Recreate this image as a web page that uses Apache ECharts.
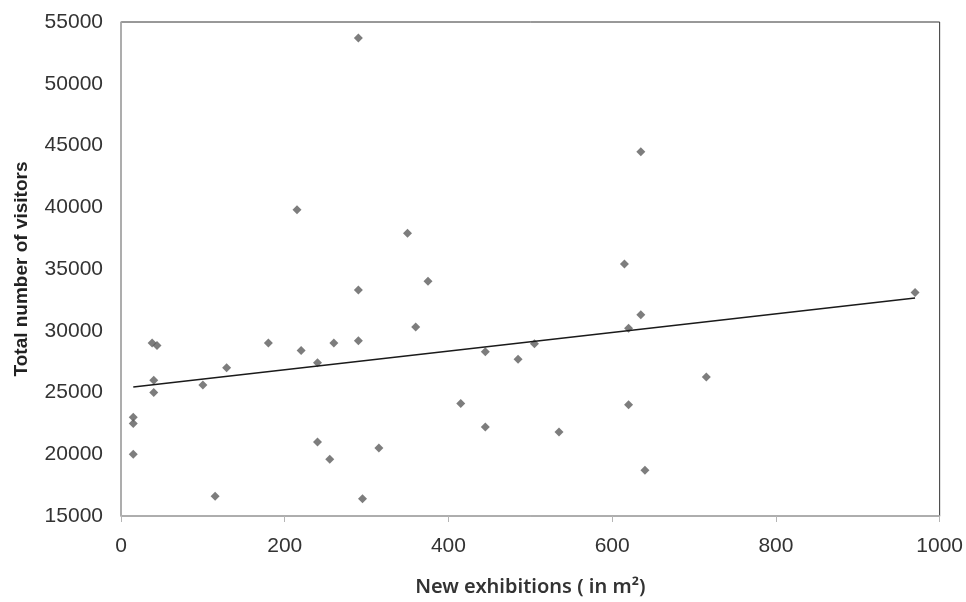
<!DOCTYPE html>
<html>
<head>
<meta charset="utf-8">
<title>Visitors vs new exhibitions</title>
<script src="https://cdn.jsdelivr.net/npm/echarts@6/dist/echarts.min.js"></script>
<style>
  html, body { margin: 0; padding: 0; background: #fff; }
  #chart { width: 966px; height: 602px; }
</style>
</head>
<body>
<div id="chart"></div>
<script>
// new exhibitions (m2) and total visitors
var exhibitionArea = [15, 15, 15, 40, 40, 38, 44, 100, 129, 115,
  180, 215, 220, 240, 240, 255, 260, 290, 290, 290,
  295, 315, 350, 360, 375, 415, 445, 445, 485, 505,
  535, 615, 620, 620, 635, 635, 640, 715, 970]
var visitors = [20000, 22500, 23000, 25000, 26000, 29000, 28800, 25600, 27000, 16600,
  29000, 39800, 28400, 27400, 21000, 19600, 29000, 53700, 33300, 29200,
  16400, 20500, 37900, 30300, 34000, 24100, 28300, 22200, 27700, 28950,
  21800, 35400, 30200, 24000, 31300, 44500, 18700, 26250, 33100]

// linear trendline ends (as drawn)
var trendX = [15, 970]
var trendY = [25450, 32650]

var xTicks = [0, 200, 400, 600, 800, 1000]
var yTicks = [15000, 20000, 25000, 30000, 35000, 40000, 45000, 50000, 55000]

var points = exhibitionArea.map(function (x, i) {
  return [x, visitors[i]]
})
var trend = trendX.map(function (x, i) {
  return [x, trendY[i]]
})

// plain numbers, no thousands separator
var plain = function (v) {
  return String(v)
}

var chart = echarts.init(document.getElementById('chart'))
chart.setOption({
  animation: false,
  grid: {
    left: 121,
    right: 26,
    top: 22,
    bottom: 83,
    show: true,
    borderColor: '#333',
    borderWidth: 1
  },
  xAxis: {
    type: 'value',
    min: xTicks[0],
    max: xTicks[xTicks.length - 1],
    interval: 200,
    name: 'New exhibitions ( in m²)',
    nameLocation: 'middle',
    nameGap: 61,
    nameTextStyle: {
      fontFamily: 'Noto Sans',
      fontSize: 20,
      fontWeight: 600,
      color: '#333'
    },
    axisLine: { show: true, lineStyle: { color: '#b5b5b5', width: 1.5 } },
    axisTick: { show: true, length: 6, lineStyle: { color: '#b5b5b5' } },
    axisLabel: {
      margin: 20,
      fontFamily: 'Liberation Sans',
      fontSize: 21,
      color: '#333',
      formatter: plain
    },
    splitLine: { show: false }
  },
  yAxis: {
    type: 'value',
    min: yTicks[0],
    max: yTicks[yTicks.length - 1],
    interval: 5000,
    name: 'Total number of visitors',
    nameLocation: 'middle',
    nameGap: 90,
    nameTextStyle: {
      fontFamily: 'Liberation Sans',
      fontSize: 19,
      fontWeight: 'bold',
      color: '#222'
    },
    axisLine: { show: true, lineStyle: { color: '#b5b5b5', width: 1.5 } },
    axisTick: { show: false },
    axisLabel: {
      margin: 18,
      fontFamily: 'Liberation Sans',
      fontSize: 21,
      color: '#333',
      formatter: plain
    },
    splitLine: { show: false }
  },
  series: [{
    name: 'visitors',
    type: 'scatter',
    symbol: 'diamond',
    symbolSize: 9,
    itemStyle: { color: '#5c5c5c' },
    data: points
  }, {
    name: 'trend',
    type: 'line',
    showSymbol: false,
    lineStyle: { color: '#1a1a1a', width: 1.5 },
    data: trend
  }]
})
</script>
</body>
</html>
